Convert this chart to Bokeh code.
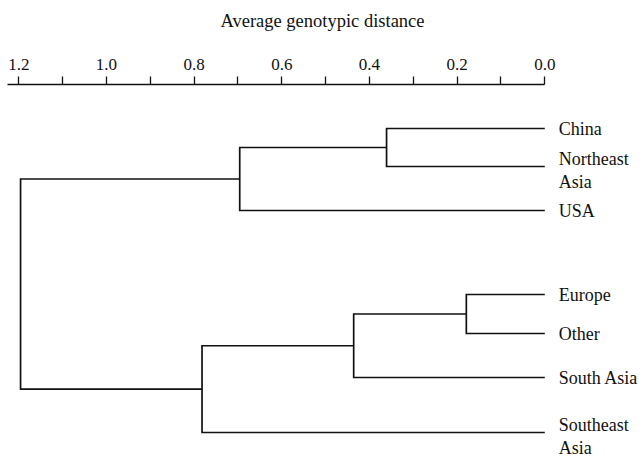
from bokeh.plotting import figure
from bokeh.models import Range1d, FixedTicker, PrintfTickFormatter
from bokeh.embed import file_html
from bokeh.resources import INLINE
from bokeh.core.properties import value

# ---- data ----
leaves = ["China", "Northeast Asia", "USA", "Europe", "Other", "South Asia", "Southeast Asia"]
leaf_labels = ["China", "Northeast\nAsia", "USA", "Europe", "Other", "South Asia", "Southeast\nAsia"]
# agglomeration steps: cluster a + cluster b joined at distance (new ids follow the leaves)
merge_a = [0, 7, 3, 9, 10, 8]
merge_b = [1, 2, 4, 5, 6, 11]
merge_dist = [0.361, 0.696, 0.179, 0.436, 0.782, 1.196]
tick_values = [0.0, 0.2, 0.4, 0.6, 0.8, 1.0, 1.2]
tick_labels = ["0.0", "0.2", "0.4", "0.6", "0.8", "1.0", "1.2"]
minor_tick_values = [0.1, 0.3, 0.5, 0.7, 0.9, 1.1]

# ---- layout (vertical slots of the leaves) ----
leaf_slot = [0, 0.95, 2.05, 4.15, 5.125, 6.225, 7.6]
label_dy = [4 if "\n" in s else 0 for s in leaf_labels]

# build dendrogram paths
node_x = [0.0] * len(leaves)
node_y = list(leaf_slot)
xs, ys = [], []
for a, b, d in zip(merge_a, merge_b, merge_dist):
    xs.append([node_x[a], d, d, node_x[b]])
    ys.append([node_y[a], node_y[a], node_y[b], node_y[b]])
    node_x.append(d)
    node_y.append((node_y[a] + node_y[b]) / 2.0)

p = figure(width=644, height=458,
           x_range=Range1d(1.2418, -0.2275), y_range=Range1d(8.25, -1.1),
           x_axis_location="above", y_axis_location=None,
           output_backend="svg", toolbar_location=None,
           min_border_left=0, min_border_right=0, min_border_bottom=0, min_border_top=84)
p.outline_line_color = None
p.grid.grid_line_color = None
p.background_fill_color = "white"
p.border_fill_color = "white"

p.multi_line(xs=xs, ys=ys, line_color="#111111", line_width=1.7, line_join="miter")

p.text(x=[0.0] * len(leaves), y=leaf_slot, text=leaf_labels,
       x_offset=14, y_offset=label_dy,
       text_align="left", text_baseline="middle",
       text_font=value("Liberation Serif"), text_font_size="18px",
       text_color="#111111", text_line_height=1.15)

ax = p.xaxis[0]
ax.ticker = FixedTicker(ticks=tick_values, minor_ticks=minor_tick_values)
ax.formatter = PrintfTickFormatter(format="%.1f")
ax.major_label_overrides = {v: s for v, s in zip(tick_values, tick_labels)}
ax.bounds = (0, 1.2258)
ax.axis_line_color = "#111111"
ax.axis_line_width = 1.6
ax.major_tick_line_color = "#111111"
ax.minor_tick_line_color = "#111111"
ax.major_tick_line_width = 1.3
ax.minor_tick_line_width = 1.3
ax.major_tick_in = 0
ax.major_tick_out = 8
ax.minor_tick_in = 0
ax.minor_tick_out = 8
ax.major_label_text_font = "Liberation Serif"
ax.major_label_text_font_size = "17px"
ax.major_label_text_color = "#111111"
ax.major_label_standoff = 7
ax.axis_label = "Average genotypic distance"
ax.axis_label_text_font = "Liberation Serif"
ax.axis_label_text_font_size = "18.5px"
ax.axis_label_text_font_style = "normal"
ax.axis_label_text_color = "#111111"
ax.axis_label_standoff = 25

open("out.html", "w").write(file_html(p, INLINE))
